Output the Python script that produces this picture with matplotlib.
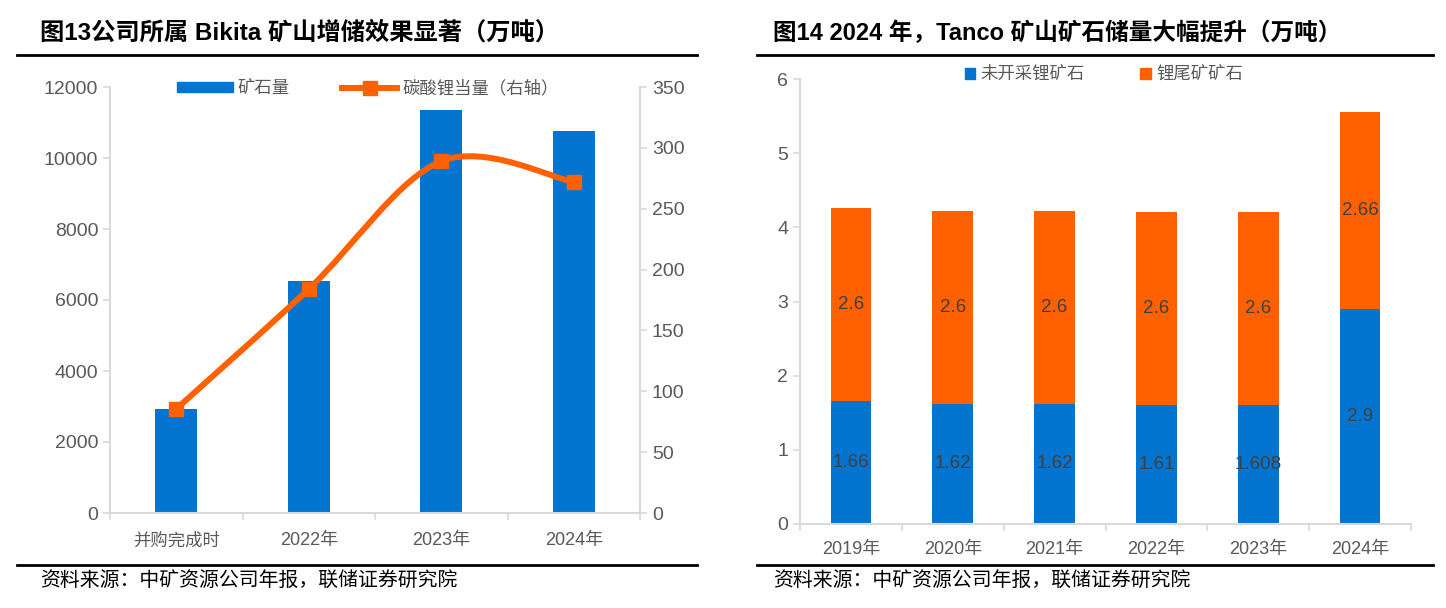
import matplotlib
matplotlib.use("Agg")
import matplotlib.pyplot as plt
from matplotlib.path import Path
from matplotlib.patches import PathPatch, Patch
from matplotlib.lines import Line2D

plt.rcParams['font.family'] = ['Liberation Sans', 'Noto Sans CJK SC', 'DejaVu Sans']

# 图13 数据
kategori_kiri = ["并购完成时", "2022年", "2023年", "2024年"]
bijih = [2930, 6530, 11350, 10750]          # 矿石量
lce = [85.5, 184, 289, 272]                 # 碳酸锂当量（右轴）

# 图14 数据
tahun = ["2019年", "2020年", "2021年", "2022年", "2023年", "2024年"]
belum_tambang = [1.66, 1.62, 1.62, 1.61, 1.608, 2.9]   # 未开采锂矿石
tailing = [2.6, 2.6, 2.6, 2.6, 2.6, 2.66]               # 锂尾矿矿石

BIRU = "#0474D1"
ORANYE = "#FF6000"
ABU = "#595959"
GARIS = "#D9D9D9"

W, H = 1446, 608
fig = plt.figure(figsize=(W / 100, H / 100), dpi=100)


def kotak(x0, y_top, x1, y_bot):
    # pixel -> figure fraction
    return [x0 / W, 1 - y_bot / H, (x1 - x0) / W, (y_bot - y_top) / H]


def gaya_sumbu(ax):
    for s in ["top", "right"]:
        ax.spines[s].set_visible(False)
    for s in ["left", "bottom"]:
        ax.spines[s].set_color(GARIS)
        ax.spines[s].set_linewidth(1.5)
    ax.tick_params(colors=GARIS, labelcolor=ABU, labelsize=14, width=1.2, length=5)


# garis judul / sumber
for xa, xb in [(17, 697), (757, 1433)]:
    fig.add_artist(Line2D([xa / W, xb / W], [1 - 55 / H, 1 - 55 / H], color="black", lw=2))
    fig.add_artist(Line2D([xa / W, xb / W], [1 - 565 / H, 1 - 565 / H], color="black", lw=2))

fig.text(40 / W, 1 - 33 / H, "图13公司所属 Bikita 矿山增储效果显著（万吨）",
         fontsize=17.5, fontweight="bold", va="center", ha="left")
fig.text(773 / W, 1 - 33 / H, "图14 2024 年，Tanco 矿山矿石储量大幅提升（万吨）",
         fontsize=17, fontweight="bold", va="center", ha="left")
fig.text(40 / W, 1 - 580 / H, "资料来源：中矿资源公司年报，联储证券研究院",
         fontsize=14.3, va="center", ha="left")
fig.text(773 / W, 1 - 580 / H, "资料来源：中矿资源公司年报，联储证券研究院",
         fontsize=14.3, va="center", ha="left")

# ---------- 图13 ----------
ax1 = fig.add_axes(kotak(110, 87, 640, 513))
x1 = list(range(len(kategori_kiri)))
ax1.bar(x1, bijih, width=0.32, color=BIRU, zorder=2)
ax1.set_xlim(-0.5, len(kategori_kiri) - 0.5)
ax1.set_ylim(0, 12000)
ax1.set_yticks(range(0, 12001, 2000))
gaya_sumbu(ax1)
ax1.set_xticks([i - 0.5 for i in range(len(kategori_kiri) + 1)])
ax1.set_xticklabels([])
ax1.set_xticks(x1, minor=True)
ax1.set_xticklabels(kategori_kiri, minor=True)
ax1.tick_params(axis="x", which="minor", length=0, pad=14, labelsize=13, labelcolor=ABU)
ax1.get_xticklabels(minor=True)[0].set_fontsize(12.5)

ax2 = ax1.twinx()
ax2.set_ylim(0, 350)
ax2.set_yticks(range(0, 351, 50))
for s in ["top", "left", "bottom"]:
    ax2.spines[s].set_visible(False)
ax2.spines["right"].set_color(GARIS)
ax2.spines["right"].set_linewidth(1.5)
ax2.tick_params(colors=GARIS, labelcolor=ABU, labelsize=14, width=1.2, length=5)

# garis halus (Catmull-Rom -> Bezier)
titik = list(zip(x1, lce))
verts = [titik[0]]
codes = [Path.MOVETO]
n = len(titik)
for i in range(n - 1):
    p0 = titik[max(i - 1, 0)]
    p1 = titik[i]
    p2 = titik[i + 1]
    p3 = titik[min(i + 2, n - 1)]
    c1 = (p1[0] + (p2[0] - p0[0]) / 6, p1[1] + (p2[1] - p0[1]) / 6)
    c2 = (p2[0] - (p3[0] - p1[0]) / 6, p2[1] - (p3[1] - p1[1]) / 6)
    verts += [c1, c2, p2]
    codes += [Path.CURVE4] * 3
ax2.add_patch(PathPatch(Path(verts, codes), fill=False, edgecolor=ORANYE, lw=4.3, zorder=3))
ax2.plot(x1, lce, ls="none", marker="s", ms=10, color=ORANYE, zorder=4)

h1 = [Patch(color=BIRU), Line2D([], [], color=ORANYE, lw=4.3, marker="s", ms=10)]
fig.legend(h1, ["矿石量", "碳酸锂当量（右轴）"], loc="center",
           bbox_to_anchor=(368 / W, 1 - 88 / H), ncol=2, frameon=False,
           fontsize=12.5, labelcolor=ABU, handlelength=3.2, handleheight=0.5,
           columnspacing=3.0, handletextpad=0.3)

# ---------- 图14 ----------
ax3 = fig.add_axes(kotak(800, 79, 1411, 524))
x3 = list(range(len(tahun)))
ax3.bar(x3, belum_tambang, width=0.4, color=BIRU, zorder=2)
ax3.bar(x3, tailing, width=0.4, bottom=belum_tambang, color=ORANYE, zorder=2)
for i in x3:
    ax3.text(i, belum_tambang[i] / 2, f"{belum_tambang[i]:g}", ha="center", va="center",
             fontsize=13.5, color="#404040")
    ax3.text(i, belum_tambang[i] + tailing[i] / 2, f"{tailing[i]:g}", ha="center",
             va="center", fontsize=13.5, color="#404040")
ax3.set_xlim(-0.5, len(tahun) - 0.5)
ax3.set_ylim(0, 6)
ax3.set_yticks(range(0, 7))
gaya_sumbu(ax3)
ax3.set_xticks([i - 0.5 for i in range(len(tahun) + 1)])
ax3.set_xticklabels([])
ax3.set_xticks(x3, minor=True)
ax3.set_xticklabels(tahun, minor=True)
ax3.tick_params(axis="x", which="minor", length=0, pad=12, labelsize=13, labelcolor=ABU)

h2 = [Patch(color=BIRU), Patch(color=ORANYE)]
fig.legend(h2, ["未开采锂矿石", "锂尾矿矿石"], loc="center",
           bbox_to_anchor=(1104 / W, 1 - 74 / H), ncol=2, frameon=False,
           fontsize=12.5, labelcolor=ABU, handlelength=0.6, handleheight=0.6,
           columnspacing=3.2, handletextpad=0.3)

fig.savefig("out.png", dpi=100)
